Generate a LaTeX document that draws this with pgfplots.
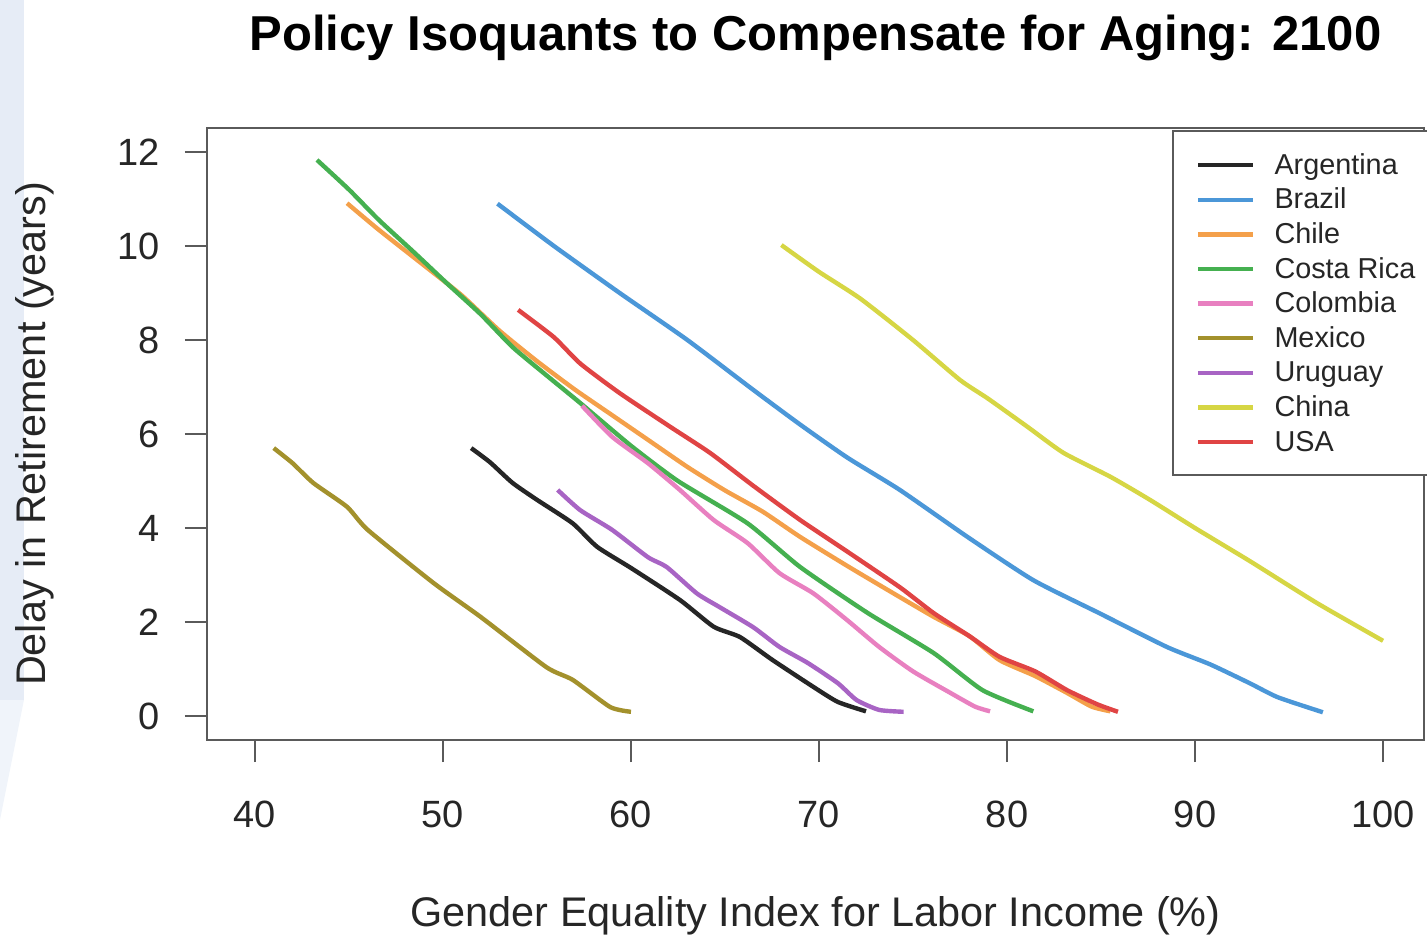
\documentclass[border=0pt]{standalone}
\usepackage{pgfplots}
\pgfplotsset{compat=1.18}
\usepackage{fontspec}
\setmainfont{Liberation Sans}
\definecolor{cArg}{HTML}{262626}
\definecolor{cBra}{HTML}{4B97D8}
\definecolor{cChi}{HTML}{F4A04A}
\definecolor{cCos}{HTML}{45B050}
\definecolor{cCol}{HTML}{E880C0}
\definecolor{cMex}{HTML}{A3912C}
\definecolor{cUru}{HTML}{A864C4}
\definecolor{cChn}{HTML}{D6D644}
\definecolor{cUSA}{HTML}{E04444}
\definecolor{frame}{HTML}{5A5A5A}
\definecolor{band}{HTML}{E6ECF6}
\begin{document}
\begin{tikzpicture}
\useasboundingbox (-103.5pt,-98.5pt) rectangle (610pt,370pt);
\fill[band] (-103.5pt,370pt) rectangle (-91.5pt,20pt);
\fill[band!60] (-103.5pt,20pt) -- (-91.5pt,20pt) -- (-103.5pt,-40pt) -- cycle;
\begin{axis}[
  at={(0pt,0pt)}, anchor=south west,
  scale only axis, width=608.5pt, height=306pt,
  xmin=37.45, xmax=102.18, ymin=-0.51, ymax=12.51,
  xtick={40,50,...,100}, ytick={0,2,...,12},
  axis line style={frame, line width=1pt},
  tick style={frame, line width=1pt},
  tick align=outside, major tick length=11pt,
  xtick pos=bottom, ytick pos=left,
  /pgf/number format/assume math mode=true,
  tick label style={font=\fontsize{19}{22}\selectfont, text=black!85},
  xticklabel style={anchor=center, yshift=-26pt},
  yticklabel style={anchor=east, inner sep=0pt, xshift=-12.5pt},
  xlabel={Gender Equality Index for Labor Income (\%)},
  ylabel={Delay in Retirement (years)},
  label style={font=\fontsize{20.7}{24}\selectfont, text=black!85},
  xlabel style={at={(axis description cs:0.5,0)}, anchor=center, yshift=-88pt},
  ylabel style={at={(axis description cs:0,0.5)}, anchor=center, rotate=0, yshift=86pt},
  title={Policy Isoquants to Compensate for Aging: 2100},
  title style={at={(axis description cs:0.5,1)}, anchor=center, yshift=39pt, font=\bfseries\fontsize{24.5}{28}\selectfont},
  legend style={at={(rel axis cs:0.793,0.9967)}, anchor=north west, draw=frame, line width=1pt,
    font=\fontsize{14.4}{16}\selectfont, text=black!85, inner xsep=11.5pt, inner ysep=10pt,
    nodes={inner sep=0pt, text height=11.6pt, text depth=1.9pt}, row sep=3.8pt,
    /tikz/every odd column/.append style={column sep=9.5pt}},
  legend cell align=left,
  legend image code/.code={\draw[#1, line width=2.2pt] (0pt,-0.3pt) -- (27.5pt,-0.3pt);},
  every axis plot/.append style={line width=2.2pt, line join=round, smooth, tension=0.35},
]
\addplot[cArg] coordinates {(51.5,5.7)(52.5,5.4)(53.7,4.96)(55,4.6)(56.9,4.1)(58.2,3.6)(60,3.15)(62.6,2.47)(64.4,1.9)(65.8,1.68)(67.5,1.2)(69.7,0.62)(71,0.3)(72.5,0.1)};
\addlegendentry{\makebox[78pt][l]{Argentina}}
\addplot[cBra] coordinates {(52.9,10.9)(55.9,10.0)(59.4,9.0)(63,8.0)(66.5,6.94)(69,6.2)(71.5,5.5)(74.3,4.81)(77.9,3.81)(81.4,2.89)(84.9,2.19)(88.5,1.47)(90.8,1.1)(92.9,0.7)(94.4,0.4)(96.8,0.08)};
\addlegendentry{Brazil}
\addplot[cChi] coordinates {(44.9,10.91)(46.6,10.34)(49.3,9.49)(51,8.95)(53,8.2)(55,7.55)(57,6.95)(59,6.4)(61,5.85)(63,5.3)(65,4.8)(67,4.35)(69,3.81)(71.6,3.17)(74.3,2.53)(76.1,2.11)(78,1.7)(79.6,1.19)(81.5,0.85)(83.2,0.49)(84.5,0.2)(85.5,0.1)};
\addlegendentry{Chile}
\addplot[cCos] coordinates {(43.3,11.83)(45,11.2)(46.6,10.55)(48.5,9.85)(50.2,9.21)(52,8.55)(53.7,7.85)(55.5,7.25)(57.3,6.66)(60,5.75)(62.5,5.0)(66.2,4.1)(69,3.17)(72.6,2.19)(76.1,1.34)(78.7,0.55)(81.4,0.1)};
\addlegendentry{Costa Rica}
\addplot[cCol] coordinates {(57.4,6.6)(59,5.94)(60.9,5.38)(62.6,4.81)(64.4,4.17)(66.2,3.68)(67.9,3.04)(69.7,2.61)(71.5,2.04)(73.2,1.47)(75,0.95)(77,0.49)(78.3,0.2)(79.1,0.1)};
\addlegendentry{Colombia}
\addplot[cMex] coordinates {(41.0,5.7)(42.0,5.38)(43.1,4.96)(44.9,4.45)(46.0,3.96)(49.5,2.83)(52.0,2.11)(55.5,1.04)(56.9,0.77)(58.9,0.19)(60.0,0.09)};
\addlegendentry{Mexico}
\addplot[cUru] coordinates {(56.1,4.81)(57.3,4.38)(59.0,3.96)(60.9,3.38)(61.9,3.17)(63.5,2.61)(64.7,2.32)(66.5,1.89)(67.9,1.47)(69.4,1.13)(71.0,0.70)(72.0,0.34)(73.2,0.13)(74.5,0.09)};
\addlegendentry{Uruguay}
\addplot[cChn] coordinates {(68,10.02)(70,9.45)(72.2,8.88)(75,8.0)(77.5,7.15)(79,6.75)(81.1,6.15)(83,5.6)(85.5,5.09)(87.6,4.6)(90,4.0)(92.9,3.3)(96.5,2.4)(100,1.6)};
\addlegendentry{China}
\addplot[cUSA] coordinates {(54.0,8.64)(55.9,8.06)(57.3,7.5)(59.4,6.87)(62.1,6.15)(64.2,5.6)(66.5,4.9)(69,4.17)(71.5,3.5)(74.3,2.74)(76.1,2.19)(78,1.7)(79.6,1.26)(81.5,0.95)(83.2,0.55)(84.8,0.25)(85.9,0.09)};
\addlegendentry{USA}
\end{axis}
\end{tikzpicture}
\end{document}
